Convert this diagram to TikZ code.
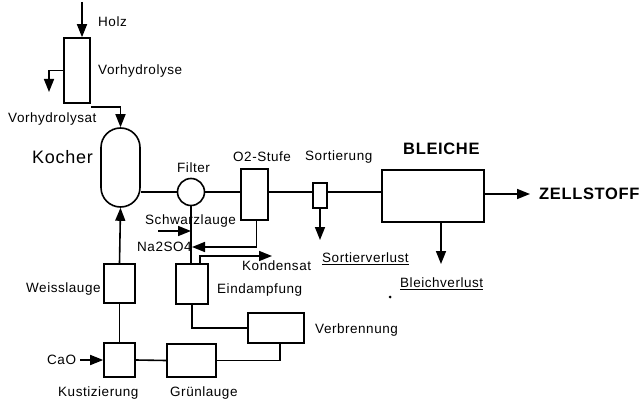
\documentclass[tikz,border=0pt]{standalone}
\usepackage{fontspec}
\setmainfont{Liberation Sans}[LetterSpace=4]
\usetikzlibrary{positioning, arrows.meta}
\tikzset{
  unitbox/.style={draw, line width=1.6pt, inner sep=0pt},
  flow/.style={line width=1.6pt, -{Triangle[length=13pt,width=10pt]}},
  pipe/.style={line width=1.6pt},
  lbl/.style={font=\fontsize{13.5}{15}\selectfont, inner sep=0pt, anchor=west},
  biglbl/.style={font=\fontsize{18}{20}\selectfont, inner sep=0pt, anchor=west},
  boldlbl/.style={font=\bfseries\fontsize{16.5}{18}\selectfont, inner sep=0pt, anchor=west},
}
\begin{document}
\begin{tikzpicture}[x=1pt, y=-1pt]
  \useasboundingbox (0,0) rectangle (644,406);
  % units
  \node[unitbox, minimum width=26, minimum height=65] (vh) at (77,70.5) {};
  \node[unitbox, minimum width=39, minimum height=79, rounded corners=19.5pt] (kocher) at (120.5,167.5) {};
  \node[unitbox, circle, minimum size=27] (filter) at (191,192) {};
  \node[unitbox, minimum width=27, minimum height=51] (o2) at (254.5,194.5) {};
  \node[unitbox, minimum width=14, minimum height=25] (sort) at (320,195.5) {};
  \node[unitbox, minimum width=102, minimum height=52] (bleiche) at (433,196) {};
  \node[unitbox, minimum width=32, minimum height=40] (eind) at (192,284) {};
  \node[unitbox, minimum width=56, minimum height=30] (verb) at (276,328) {};
  \node[unitbox, minimum width=49, minimum height=33] (gruen) at (191.5,360.5) {};
  \node[unitbox, minimum width=31, minimum height=34] (kust) at (119.5,360) {};
  \node[unitbox, minimum width=31, minimum height=39] (weiss) at (119.5,283.5) {};
  % free ends
  \coordinate (holzin) at (82,2);
  \coordinate (vhout) at (49,92);
  \coordinate (main) at (0,192);
  \coordinate (zs) at (530,194);
  \coordinate (sv) at (320,240);
  \coordinate (bv) at (441,264);
  \coordinate (swin) at (158,231);
  \coordinate (na) at (0,247);
  \coordinate (kd) at (272,256);
  \coordinate (cao) at (80,360);
  % connectors
  \draw[flow] (holzin) -- (holzin |- vh.north);
  \draw[flow] (vh.west) -| (vhout);
  \draw[flow] ([yshift=-3]vh.south east) -| (kocher.north);
  \draw[pipe] (kocher.east |- main) -- (filter.west);
  \draw[pipe] (filter.east) -- (o2.west |- filter.east);
  \draw[pipe] (o2.east |- main) -- (sort.west |- main);
  \draw[pipe] (sort.east |- main) -- (bleiche.west |- main);
  \draw[flow] (bleiche.east |- zs) -- (zs);
  \draw[flow] (sort.south) -- (sv);
  \draw[flow] (bv |- bleiche.south) -- (bv);
  \draw[pipe] (filter.south) -- (filter.south |- eind.north);
  \draw[flow] (swin) -- (swin -| filter.south);
  \draw[flow] ([xshift=2]o2.south) |- ([xshift=1]na -| filter.south);
  \draw[flow] ([xshift=8]eind.north) |- (kd);
  \draw[pipe] (eind.south) |- (verb.west);
  \draw[pipe] ([xshift=4]verb.south) |- (gruen.east);
  \draw[pipe] (gruen.west) -- (kust.east);
  \draw[flow] (cao) -- (kust.west);
  \draw[pipe] (kust.north) -- (weiss.south);
  \draw[flow] (weiss.north) -- (kocher.south);
  % labels
  \node[lbl] (holzlbl) at (98,22) {Holz};
  \node[lbl] (vhlbl) at (98,71) {Vorhydrolyse};
  \node[lbl] (vhsatlbl) at (8,119) {Vorhydrolysat};
  \node[biglbl] (kocherlbl) at (32,157) {Kocher};
  \node[lbl] (filterlbl) at (177,168) {Filter};
  \node[lbl] (o2lbl) at (233,157) {O2-Stufe};
  \node[lbl] (sortlbl) at (305,157) {Sortierung};
  \node[boldlbl] (bleichelbl) at (403,149) {BLEICHE};
  \node[boldlbl] (zslbl) at (539,194) {ZELLSTOFF};
  \node[lbl] (svlbl) at (322,259) {\underline{Sortierverlust}};
  \node[lbl] (bvlbl) at (400,284) {\underline{Bleichverlust}};
  \node[lbl] (swlbl) at (145,221) {Schwarzlauge};
  \node[lbl] (nalbl) at (137,247) {Na2SO4};
  \node[lbl] (kdlbl) at (242,266) {Kondensat};
  \node[lbl] (eindlbl) at (217,290) {Eindampfung};
  \node[lbl] (verblbl) at (315,330) {Verbrennung};
  \node[lbl] (weisslbl) at (26,289) {Weisslauge};
  \node[lbl] (caolbl) at (47,360) {CaO};
  \node[lbl] (kustlbl) at (58,393) {Kustizierung};
  \node[lbl] (gruenlbl) at (170,393) {Grünlauge};
  \fill (390,297) circle (1.5);
\end{tikzpicture}
\end{document}
